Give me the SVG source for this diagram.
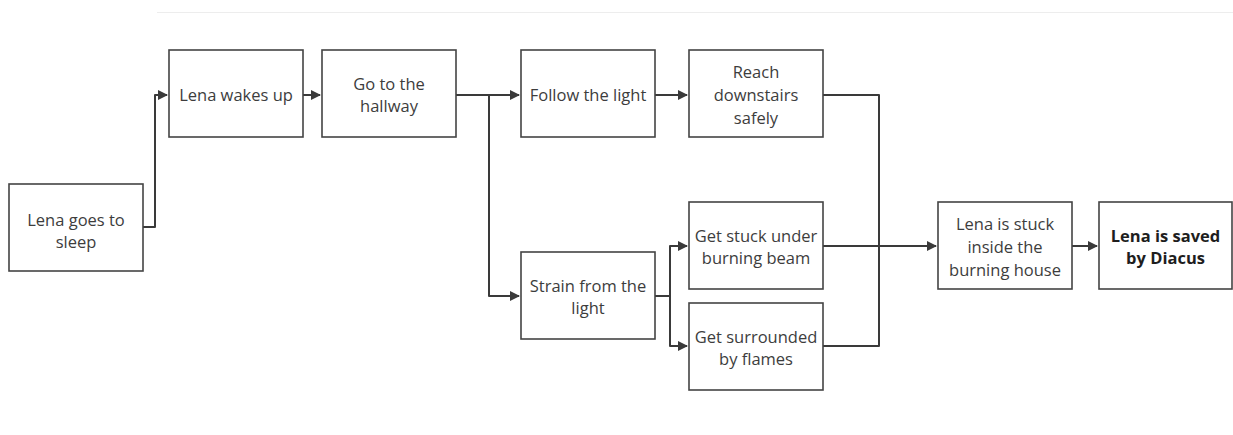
<svg xmlns="http://www.w3.org/2000/svg" width="1233" height="435" viewBox="0 0 1233 435">
  <style>
    .box { fill: #ffffff; stroke: #444444; stroke-width: 1.6; }
    .lbl { font-family: "Open Sans", "Noto Sans", sans-serif; font-size: 16.5px; fill: #3d3d3d; text-anchor: middle; }
    .bold { font-weight: bold; fill: #1e1e1e; }
    .wire { fill: none; stroke: #3a3a3a; stroke-width: 2; stroke-linejoin: round; }
  </style>
  <defs>
    <marker id="arrow" viewBox="0 0 10 10" refX="9" refY="5" markerWidth="5" markerHeight="5" orient="auto" markerUnits="strokeWidth">
      <path d="M0,0 L10,5 L0,10 z" fill="#3a3a3a"/>
    </marker>
  </defs>

  <rect width="1233" height="435" fill="#ffffff"/>
  <line x1="157" y1="12.5" x2="1233" y2="12.5" stroke="#ededed" stroke-width="1"/>

  <g id="connectors">
    <path class="wire" d="M143,227 H155 V95 H167" marker-end="url(#arrow)"/>
    <path class="wire" d="M303,95 H320" marker-end="url(#arrow)"/>
    <path class="wire" d="M456,95 H519" marker-end="url(#arrow)"/>
    <path class="wire" d="M489,95 V296 H519" marker-end="url(#arrow)"/>
    <path class="wire" d="M655,95 H687" marker-end="url(#arrow)"/>
    <path class="wire" d="M655,296 H670 V246 H687" marker-end="url(#arrow)"/>
    <path class="wire" d="M670,296 V346 H687" marker-end="url(#arrow)"/>
    <path class="wire" d="M823,95 H879 V346 H823"/>
    <path class="wire" d="M823,246 H936" marker-end="url(#arrow)"/>
    <path class="wire" d="M1072,246 H1097" marker-end="url(#arrow)"/>
  </g>

  <g id="sleep">
    <rect class="box" x="9" y="184" width="134" height="87"/>
    <text class="lbl" x="76" y="226">Lena goes to</text>
    <text class="lbl" x="76" y="248">sleep</text>
  </g>
  <g id="wake">
    <rect class="box" x="169" y="50" width="134" height="87"/>
    <text class="lbl" x="236" y="101">Lena wakes up</text>
  </g>
  <g id="hallway">
    <rect class="box" x="322" y="50" width="134" height="87"/>
    <text class="lbl" x="389" y="90">Go to the</text>
    <text class="lbl" x="389" y="112">hallway</text>
  </g>
  <g id="follow">
    <rect class="box" x="521" y="50" width="134" height="87"/>
    <text class="lbl" x="588" y="101">Follow the light</text>
  </g>
  <g id="downstairs">
    <rect class="box" x="689" y="50" width="134" height="87"/>
    <text class="lbl" x="756" y="78">Reach</text>
    <text class="lbl" x="756" y="101">downstairs</text>
    <text class="lbl" x="756" y="124">safely</text>
  </g>
  <g id="strain">
    <rect class="box" x="521" y="252" width="134" height="87"/>
    <text class="lbl" x="588" y="292">Strain from the</text>
    <text class="lbl" x="588" y="314">light</text>
  </g>
  <g id="beam">
    <rect class="box" x="689" y="202" width="134" height="87"/>
    <text class="lbl" x="756" y="242">Get stuck under</text>
    <text class="lbl" x="756" y="264">burning beam</text>
  </g>
  <g id="flames">
    <rect class="box" x="689" y="303" width="134" height="87"/>
    <text class="lbl" x="756" y="343">Get surrounded</text>
    <text class="lbl" x="756" y="365">by flames</text>
  </g>
  <g id="stuck">
    <rect class="box" x="938" y="202" width="134" height="87"/>
    <text class="lbl" x="1005" y="230">Lena is stuck</text>
    <text class="lbl" x="1005" y="253">inside the</text>
    <text class="lbl" x="1005" y="276">burning house</text>
  </g>
  <g id="saved">
    <rect class="box" x="1099" y="202" width="133" height="87"/>
    <text class="lbl bold" x="1165.5" y="242">Lena is saved</text>
    <text class="lbl bold" x="1165.5" y="264">by Diacus</text>
  </g>
</svg>
